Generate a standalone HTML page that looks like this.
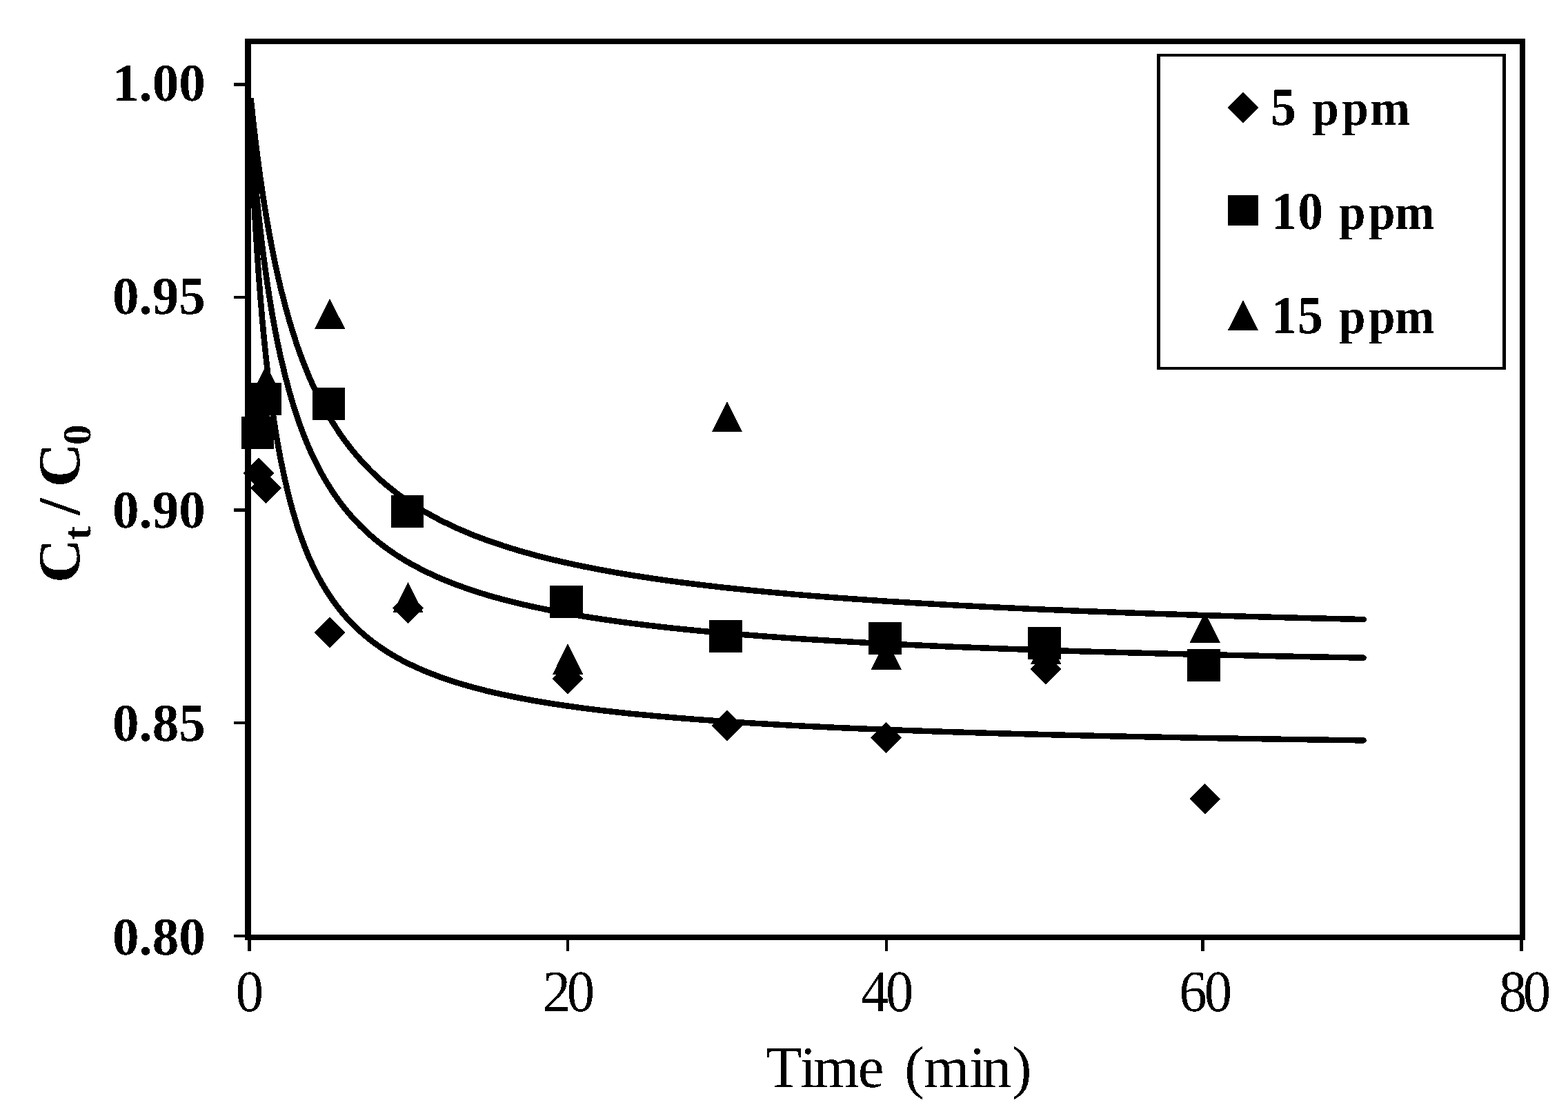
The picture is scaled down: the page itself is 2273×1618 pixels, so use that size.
<!DOCTYPE html>
<html lang="en"><head><meta charset="utf-8"><title>Ct / C0 versus Time (min)</title>
<style>html,body{margin:0;padding:0;background:#fff;}body{width:2273px;height:1618px;}svg{display:block;}text{font-family:"Liberation Serif","DejaVu Serif",serif;fill:#000;text-rendering:geometricPrecision;white-space:pre;}.b{font-weight:bold;}</style></head><body>
<svg width="2273" height="1618" viewBox="0 0 2273 1618" role="img" aria-label="Ct / C0 versus Time (min) for 5, 10 and 15 ppm">
<defs><clipPath id="cc"><rect x="355" y="142" width="1700" height="1300"/></clipPath>
<filter id="bin" x="-5%" y="-5%" width="110%" height="110%" color-interpolation-filters="sRGB"><feComponentTransfer><feFuncA type="discrete" tableValues="0 1"/></feComponentTransfer></filter>
</defs>
<rect width="2273" height="1618" fill="#fff"/>
<g fill="#000" shape-rendering="crispEdges">
<rect x="355" y="56" width="9" height="1307"/>
<rect x="355" y="56" width="1856" height="8"/>
<rect x="2203" y="56" width="8" height="1307"/>
<rect x="355" y="1355" width="1856" height="8"/>
<rect x="339" y="120" width="17" height="5"/>
<rect x="339" y="429" width="17" height="4"/>
<rect x="339" y="737" width="17" height="5"/>
<rect x="339" y="1046" width="17" height="4"/>
<rect x="339" y="1355" width="17" height="4"/>
<rect x="359" y="1362" width="5" height="17"/>
<rect x="821" y="1362" width="4" height="17"/>
<rect x="1283" y="1362" width="4" height="17"/>
<rect x="1741" y="1362" width="5" height="17"/>
<rect x="2203" y="1362" width="5" height="17"/>
<rect x="1677" y="78" width="5" height="458"/>
<rect x="1677" y="78" width="506" height="4"/>
<rect x="2178" y="78" width="5" height="458"/>
<rect x="1677" y="532" width="506" height="4"/>
</g>
<g fill="none" stroke="#000" stroke-width="8.5" stroke-linejoin="round" stroke-linecap="round" clip-path="url(#cc)" shape-rendering="crispEdges">
<polyline points="361.5,149.0 362.7,177.1 363.8,203.6 365.0,228.6 366.1,252.2 367.3,274.6 368.4,295.8 369.6,316.0 370.7,335.1 371.9,353.4 373.0,370.7 374.2,387.3 375.3,403.2 376.5,418.3 377.6,432.8 378.8,446.7 379.9,460.0 381.1,472.8 382.2,485.1 383.4,496.9 384.6,508.3 385.7,519.2 386.9,529.7 388.0,539.9 389.2,549.7 390.3,559.1 391.5,568.3 392.6,577.1 393.8,585.6 394.9,593.9 396.1,601.9 397.2,609.6 398.4,617.1 399.5,624.4 400.7,631.5 401.8,638.3 403.0,645.0 404.1,651.4 405.3,657.7 406.4,663.8 407.6,669.8 413.4,697.1 419.1,721.2 424.9,742.5 430.6,761.5 436.4,778.6 442.2,794.0 447.9,808.0 453.7,820.7 459.5,832.4 465.2,843.1 471.0,852.9 476.8,862.1 482.5,870.5 488.3,878.4 494.0,885.7 499.8,892.6 505.6,899.0 511.3,905.0 517.1,910.7 522.9,916.0 528.6,921.0 534.4,925.8 540.1,930.3 545.9,934.6 551.7,938.6 557.4,942.5 563.2,946.2 569.0,949.7 574.7,953.0 580.5,956.2 586.2,959.2 592.0,962.2 615.0,972.7 638.1,981.6 661.2,989.4 684.2,996.1 707.2,1002.1 730.3,1007.3 753.4,1012.0 776.4,1016.3 799.5,1020.1 822.5,1023.5 845.5,1026.7 868.6,1029.6 891.6,1032.2 914.7,1034.7 937.8,1036.9 960.8,1039.0 983.9,1041.0 1006.9,1042.8 1030.0,1044.5 1053.0,1046.1 1076.1,1047.6 1099.1,1049.0 1122.2,1050.3 1145.2,1051.6 1168.2,1052.8 1191.3,1053.9 1214.3,1055.0 1237.4,1056.0 1260.5,1056.9 1283.5,1057.8 1306.6,1058.7 1329.6,1059.5 1352.7,1060.3 1375.7,1061.1 1398.8,1061.8 1421.8,1062.5 1444.9,1063.2 1467.9,1063.8 1491.0,1064.4 1514.0,1065.0 1537.0,1065.6 1560.1,1066.1 1583.2,1066.7 1606.2,1067.2 1629.2,1067.7 1652.3,1068.1 1675.4,1068.6 1698.4,1069.0 1721.5,1069.5 1744.5,1069.9 1767.5,1070.3 1790.6,1070.7 1813.7,1071.0 1836.7,1071.4 1859.8,1071.8 1882.8,1072.1 1905.9,1072.4 1928.9,1072.8 1952.0,1073.1 1975.0,1073.4 1976.6,1073.4"/>
<polyline points="361.5,156.5 362.7,172.5 363.8,187.9 365.0,202.7 366.1,216.9 367.3,230.7 368.4,243.9 369.6,256.7 370.7,269.1 371.9,281.0 373.0,292.6 374.2,303.8 375.3,314.6 376.5,325.1 377.6,335.2 378.8,345.1 379.9,354.6 381.1,363.9 382.2,372.9 383.4,381.7 384.6,390.2 385.7,398.4 386.9,406.5 388.0,414.3 389.2,421.9 390.3,429.3 391.5,436.5 392.6,443.5 393.8,450.4 394.9,457.0 396.1,463.6 397.2,469.9 398.4,476.1 399.5,482.2 400.7,488.1 401.8,493.8 403.0,499.5 404.1,505.0 405.3,510.4 406.4,515.6 407.6,520.8 413.4,544.9 419.1,566.6 424.9,586.3 430.6,604.2 436.4,620.5 442.2,635.5 447.9,649.3 453.7,662.1 459.5,673.9 465.2,684.8 471.0,695.0 476.8,704.6 482.5,713.5 488.3,721.9 494.0,729.7 499.8,737.1 505.6,744.1 511.3,750.7 517.1,757.0 522.9,762.9 528.6,768.5 534.4,773.8 540.1,778.9 545.9,783.7 551.7,788.3 557.4,792.7 563.2,796.9 569.0,800.9 574.7,804.8 580.5,808.5 586.2,812.0 592.0,815.4 615.0,827.8 638.1,838.4 661.2,847.7 684.2,855.8 707.2,863.1 730.3,869.5 753.4,875.3 776.4,880.5 799.5,885.2 822.5,889.5 845.5,893.5 868.6,897.1 891.6,900.5 914.7,903.6 937.8,906.4 960.8,909.1 983.9,911.6 1006.9,913.9 1030.0,916.1 1053.0,918.1 1076.1,920.0 1099.1,921.8 1122.2,923.5 1145.2,925.2 1168.2,926.7 1191.3,928.1 1214.3,929.5 1237.4,930.8 1260.5,932.1 1283.5,933.2 1306.6,934.4 1329.6,935.4 1352.7,936.5 1375.7,937.5 1398.8,938.4 1421.8,939.3 1444.9,940.2 1467.9,941.0 1491.0,941.8 1514.0,942.6 1537.0,943.4 1560.1,944.1 1583.2,944.8 1606.2,945.4 1629.2,946.1 1652.3,946.7 1675.4,947.3 1698.4,947.9 1721.5,948.4 1744.5,949.0 1767.5,949.5 1790.6,950.0 1813.7,950.5 1836.7,951.0 1859.8,951.5 1882.8,951.9 1905.9,952.4 1928.9,952.8 1952.0,953.2 1975.0,953.6 1976.6,953.6"/>
<polyline points="361.5,122.3 362.7,133.9 363.8,145.2 365.0,156.2 366.1,166.8 367.3,177.2 368.4,187.3 369.6,197.1 370.7,206.7 371.9,216.0 373.0,225.1 374.2,234.0 375.3,242.7 376.5,251.1 377.6,259.3 378.8,267.4 379.9,275.2 381.1,282.9 382.2,290.4 383.4,297.7 384.6,304.9 385.7,311.9 386.9,318.7 388.0,325.4 389.2,332.0 390.3,338.4 391.5,344.7 392.6,350.8 393.8,356.9 394.9,362.8 396.1,368.5 397.2,374.2 398.4,379.8 399.5,385.2 400.7,390.5 401.8,395.8 403.0,400.9 404.1,406.0 405.3,410.9 406.4,415.8 407.6,420.5 413.4,443.1 419.1,463.8 424.9,482.8 430.6,500.4 436.4,516.6 442.2,531.7 447.9,545.7 453.7,558.8 459.5,571.1 465.2,582.6 471.0,593.3 476.8,603.5 482.5,613.0 488.3,622.0 494.0,630.6 499.8,638.7 505.6,646.3 511.3,653.6 517.1,660.5 522.9,667.1 528.6,673.4 534.4,679.4 540.1,685.1 545.9,690.6 551.7,695.9 557.4,700.9 563.2,705.7 569.0,710.3 574.7,714.8 580.5,719.1 586.2,723.2 592.0,727.1 615.0,741.6 638.1,754.2 661.2,765.3 684.2,775.1 707.2,783.8 730.3,791.6 753.4,798.7 776.4,805.1 799.5,811.0 822.5,816.3 845.5,821.2 868.6,825.7 891.6,829.9 914.7,833.8 937.8,837.4 960.8,840.8 983.9,843.9 1006.9,846.8 1030.0,849.6 1053.0,852.2 1076.1,854.6 1099.1,856.9 1122.2,859.1 1145.2,861.2 1168.2,863.1 1191.3,865.0 1214.3,866.7 1237.4,868.4 1260.5,870.0 1283.5,871.6 1306.6,873.0 1329.6,874.4 1352.7,875.7 1375.7,877.0 1398.8,878.2 1421.8,879.4 1444.9,880.5 1467.9,881.6 1491.0,882.7 1514.0,883.7 1537.0,884.6 1560.1,885.6 1583.2,886.5 1606.2,887.3 1629.2,888.2 1652.3,889.0 1675.4,889.8 1698.4,890.5 1721.5,891.3 1744.5,892.0 1767.5,892.7 1790.6,893.3 1813.7,894.0 1836.7,894.6 1859.8,895.2 1882.8,895.8 1905.9,896.4 1928.9,896.9 1952.0,897.5 1975.0,898.0 1976.6,898.1"/>
</g>
<g fill="#000" shape-rendering="crispEdges">
<polygon points="375.3,663.7 397.7,686.1 375.3,708.5 352.9,686.1"/>
<polygon points="385.5,685.2 407.9,707.6 385.5,730 363.1,707.6"/>
<polygon points="478,894.6 500.4,917 478,939.4 455.6,917"/>
<polygon points="591.7,859 614.1,881.4 591.7,903.8 569.3,881.4"/>
<polygon points="823,961.8 845.4,984.2 823,1006.6 800.6,984.2"/>
<polygon points="1053.7,1029.6 1076.1,1052 1053.7,1074.4 1031.3,1052"/>
<polygon points="1284.8,1047.1 1307.2,1069.5 1284.8,1091.9 1262.4,1069.5"/>
<polygon points="1516,947.6 1538.4,970 1516,992.4 1493.6,970"/>
<polygon points="1746.8,1135.9 1769.2,1158.3 1746.8,1180.7 1724.4,1158.3"/>
<polygon points="1802,133.6 1824.4,156 1802,178.4 1779.6,156"/>
<rect x="350" y="604" width="47" height="47"/>
<rect x="361" y="555" width="47" height="47"/>
<rect x="453" y="562" width="47" height="47"/>
<rect x="567" y="718" width="47" height="47"/>
<rect x="797" y="849" width="48" height="47"/>
<rect x="1028" y="899" width="48" height="47"/>
<rect x="1259" y="902" width="48" height="47"/>
<rect x="1490" y="909" width="48" height="47"/>
<rect x="1721" y="941" width="48" height="47"/>
<rect x="1780" y="283" width="44" height="44"/>
<rect x="364" y="602" width="27" height="2"/>
<polygon points="386,528.8 408.2,573 363.8,573"/>
<polygon points="478.1,432.8 500.3,477 455.9,477"/>
<polygon points="591.7,844.1 613.9,888.3 569.5,888.3"/>
<polygon points="823.1,933.1 845.3,977.8 800.9,977.8"/>
<polygon points="1054.1,582.1 1076.3,626.1 1031.9,626.1"/>
<polygon points="1284.8,926.7 1307,970.9 1262.6,970.9"/>
<polygon points="1516.1,918.7 1538.3,962.9 1493.9,962.9"/>
<polygon points="1746.9,887.5 1769.1,931.7 1724.7,931.7"/>
<polygon points="1802,434.9 1824.2,478.9 1779.8,478.9"/>
</g>
<text class="b" transform="translate(297.9,146.45) scale(0.997,1)" font-size="77.35" text-anchor="end" filter="url(#bin)">1.00</text>
<text class="b" transform="translate(297.9,455.35) scale(0.997,1)" font-size="77.35" text-anchor="end" filter="url(#bin)">0.95</text>
<text class="b" transform="translate(297.9,765.35) scale(0.997,1)" font-size="77.35" text-anchor="end" filter="url(#bin)">0.90</text>
<text class="b" transform="translate(297.9,1074.35) scale(0.997,1)" font-size="77.35" text-anchor="end" filter="url(#bin)">0.85</text>
<text class="b" transform="translate(297.9,1384.35) scale(0.997,1)" font-size="77.35" text-anchor="end" filter="url(#bin)">0.80</text>
<text transform="translate(0,1466.4) scale(0.947,1)" font-size="85.2" text-anchor="start" x="360.96" filter="url(#bin)">0</text>
<text transform="translate(0,1466.4) scale(0.947,1)" font-size="85.2" text-anchor="start" x="830.89 867.82" filter="url(#bin)">20</text>
<text transform="translate(0,1466.4) scale(0.947,1)" font-size="85.2" text-anchor="start" x="1317.87 1355.78" filter="url(#bin)">40</text>
<text transform="translate(0,1466.4) scale(0.947,1)" font-size="85.2" text-anchor="start" x="1804.79 1843.53" filter="url(#bin)">60</text>
<text transform="translate(0,1466.4) scale(0.947,1)" font-size="85.2" text-anchor="start" x="2294.22 2331.39" filter="url(#bin)">80</text>
<text transform="translate(0,1576)" font-size="85" text-anchor="start" x="1110.26 1160.12 1179.22 1243.78 1281.51 1311.36 1339.12 1405.22 1423.85 1467.26" filter="url(#bin)">Time (min)</text>
<text class="b" transform="translate(0,181.4) scale(0.95,1)" font-size="77.35" text-anchor="start" x="1938.9 1977.58 2002.34 2047.6 2090.68" filter="url(#bin)">5<tspan font-size="72.8"> ppm</tspan></text>
<text class="b" transform="translate(0,331.6) scale(0.95,1)" font-size="77.35" text-anchor="start" x="1939.91 1980.21 2018.89 2043.29 2088.44 2128.36" filter="url(#bin)">10<tspan font-size="72.8"> ppm</tspan></text>
<text class="b" transform="translate(0,482.8) scale(0.95,1)" font-size="77.35" text-anchor="start" x="1939.91 1980.06 2018.74 2043.29 2088.44 2128.36" filter="url(#bin)">15<tspan font-size="72.8"> ppm</tspan></text>
<text class="b" transform="translate(115.15,845.1) rotate(-90) scale(1.02,1)" font-size="86.6" text-anchor="start" filter="url(#bin)"><tspan x="0" y="0">C</tspan><tspan font-size="57.8" x="61.34" y="16.3">t</tspan><tspan x="80.49" y="0"> </tspan><tspan x="96.42" y="0">/</tspan><tspan> </tspan><tspan x="136.15" y="0">C</tspan><tspan font-size="57.8" x="196.08" y="16.3">0</tspan></text>
</svg></body></html>
